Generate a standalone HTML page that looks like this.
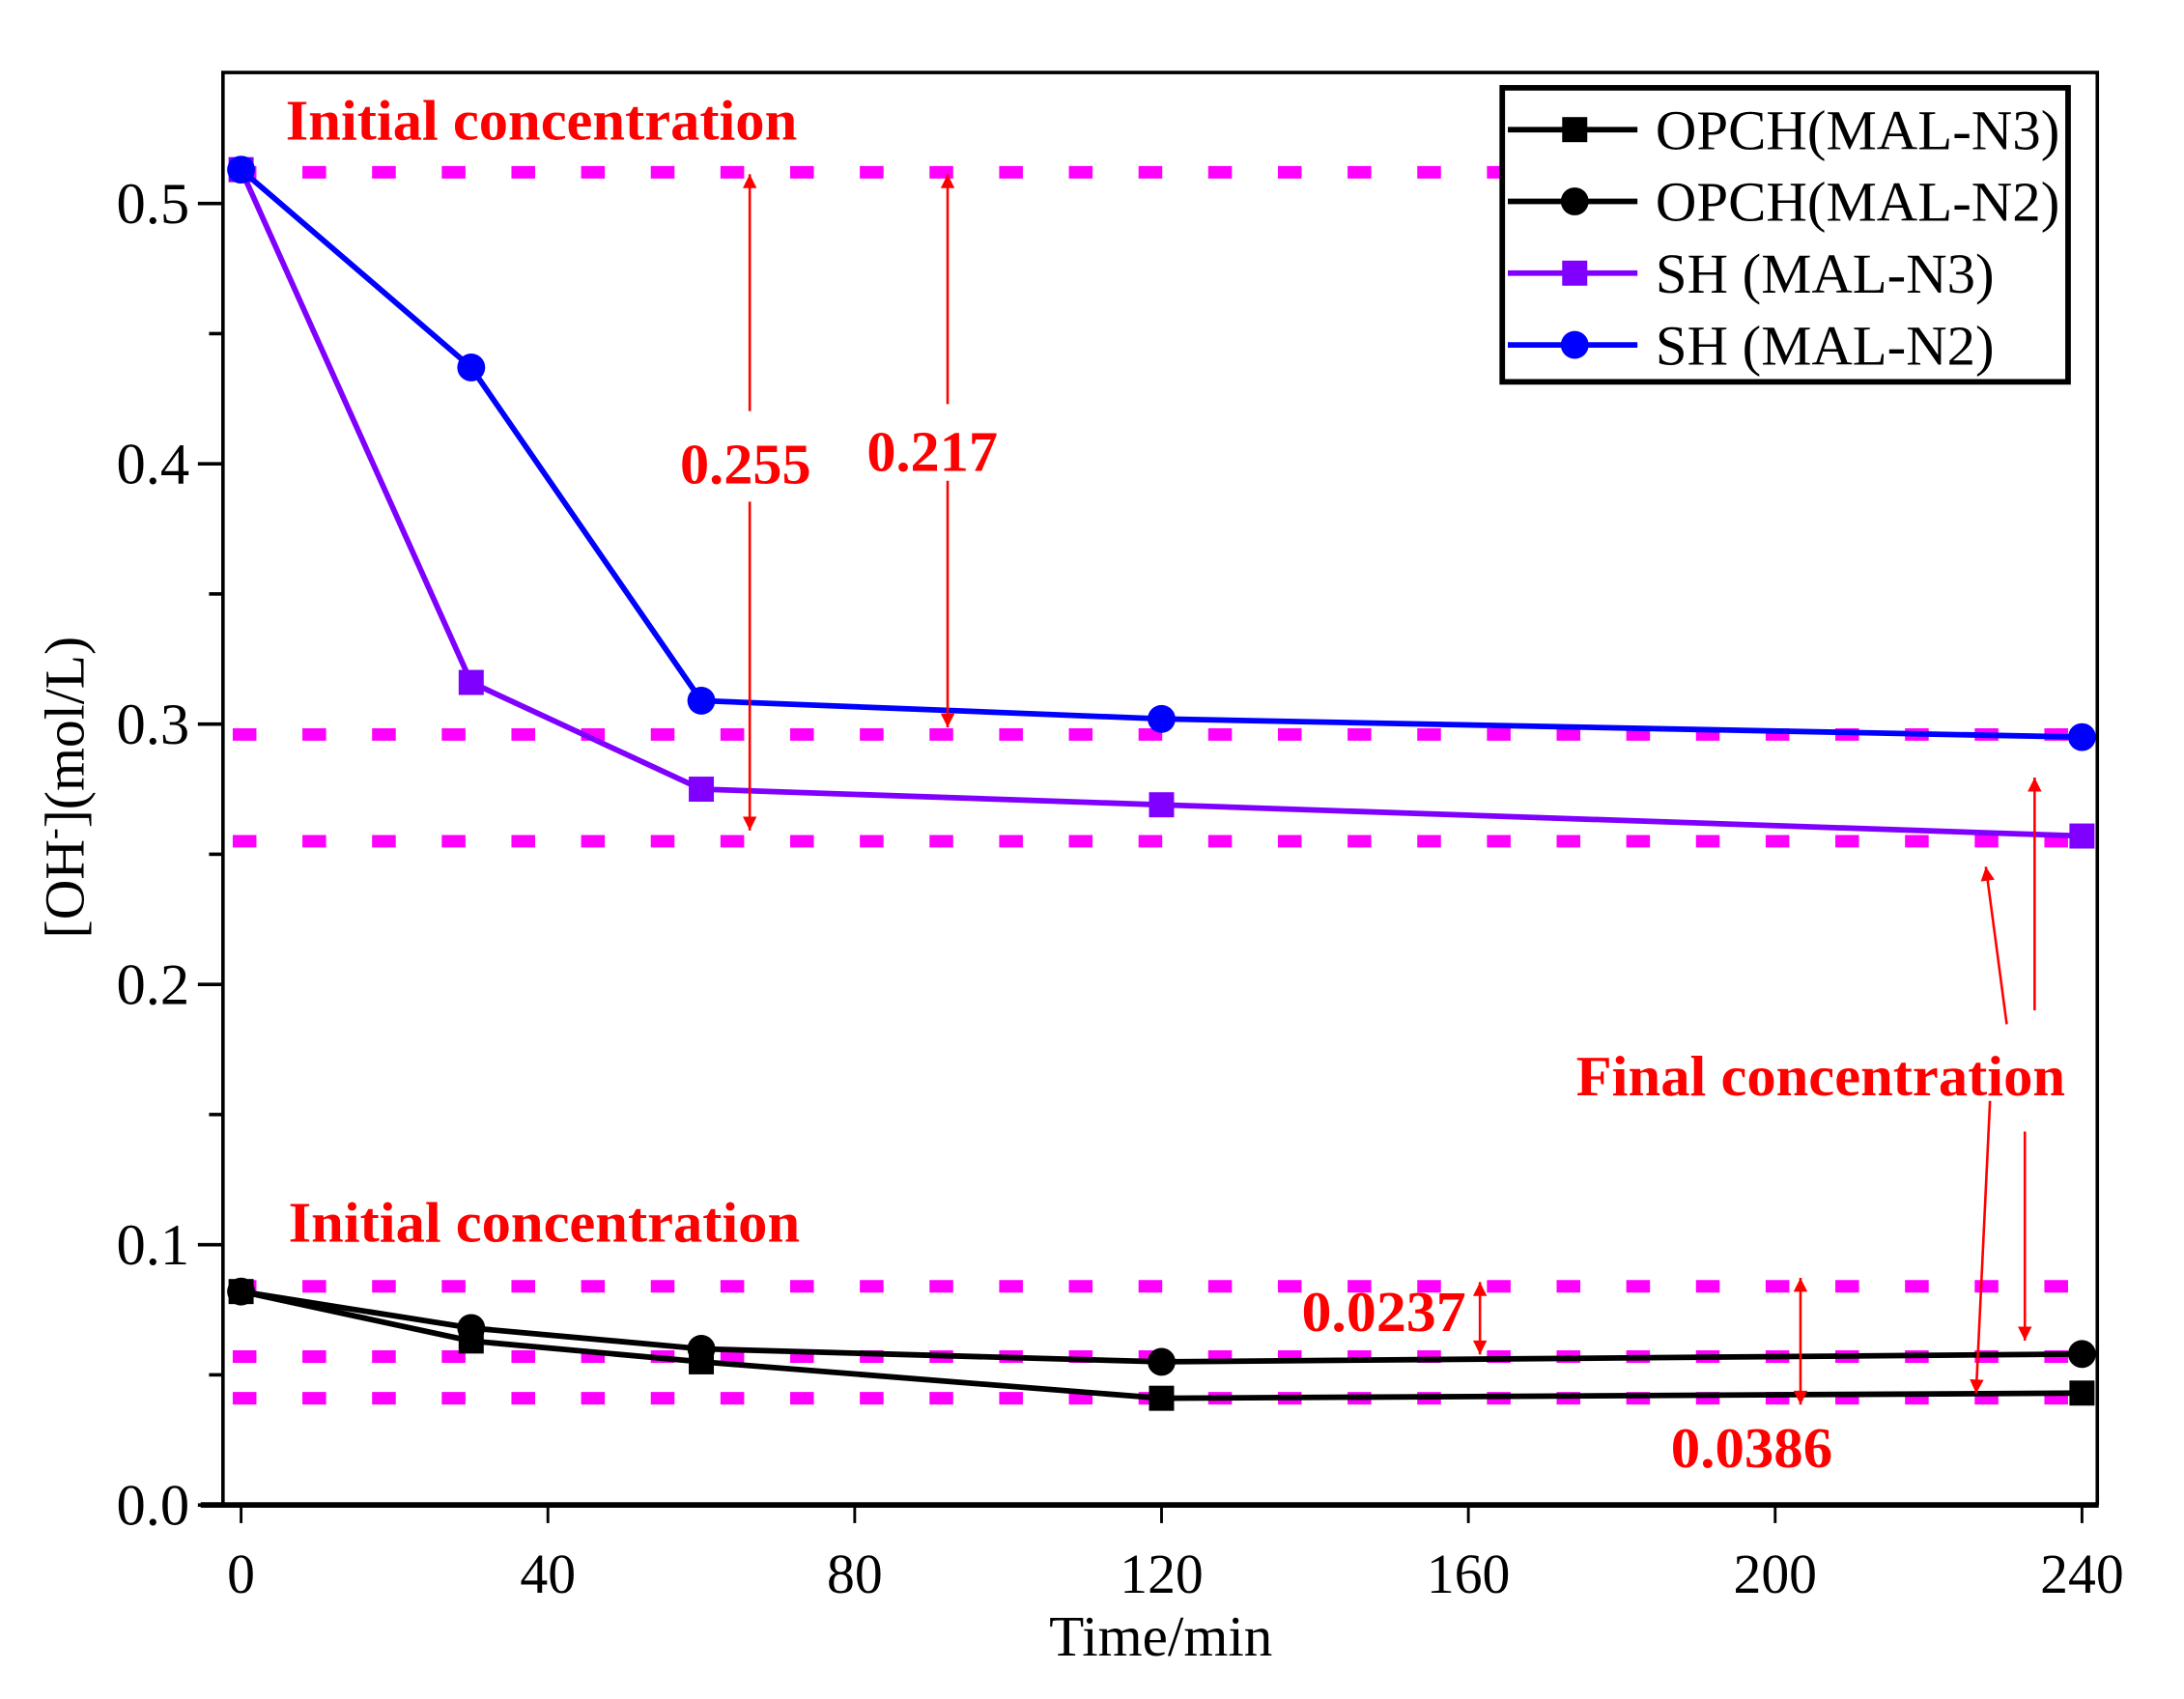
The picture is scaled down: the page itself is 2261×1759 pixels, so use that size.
<!DOCTYPE html>
<html><head><meta charset="utf-8"><style>
html,body{margin:0;padding:0;background:#fff;}
svg{display:block;}
text{font-family:"Liberation Serif",serif;}
</style></head><body>
<svg id="chart" width="2261" height="1759" viewBox="0 0 1567.2 1219.2" xmlns="http://www.w3.org/2000/svg">
<defs>
<marker id="ah" viewBox="0 0 10 10" refX="10" refY="5" markerWidth="16" markerHeight="10" markerUnits="userSpaceOnUse" orient="auto"><path d="M0,0 L10,5 L0,10 z" fill="#f00"/></marker>
</defs>
<g id="refs"></g>
<g id="series"></g>
<g id="axes"></g>
<g id="annot"></g>
<g id="legend"></g>
</svg>
<script>
const times = [0, 30, 60, 120, 240];
const seriesNames = ["OPCH(MAL-N3)", "OPCH(MAL-N2)", "SH (MAL-N3)", "SH (MAL-N2)"];
const opchN3 = [0.082, 0.063, 0.055, 0.041, 0.043];
const opchN2 = [0.082, 0.068, 0.060, 0.055, 0.058];
const shN3 = [0.513, 0.316, 0.275, 0.269, 0.257];
const shN2 = [0.513, 0.437, 0.309, 0.302, 0.295];
const refLevels = [0.512, 0.296, 0.255, 0.084, 0.057, 0.041];
const xTicks = [0, 40, 80, 120, 160, 200, 240];
const yTicks = [0.0, 0.1, 0.2, 0.3, 0.4, 0.5];
const yTickLabels = ["0.0", "0.1", "0.2", "0.3", "0.4", "0.5"];

const NS = "http://www.w3.org/2000/svg";
const L = 160, R = 1505, T = 52, B = 1080;
function sx(v){ return 173 + v * (1494 - 173) / 240; }
function sy(v){ return 1080 - v * (1080 - 146) / 0.5; }
function mk(tag, attrs, parent){
  const e = document.createElementNS(NS, tag);
  for (const k in attrs) e.setAttribute(k, attrs[k]);
  parent.appendChild(e);
  return e;
}
const refs = document.getElementById('refs');
const series = document.getElementById('series');
const axes = document.getElementById('axes');
const annot = document.getElementById('annot');
const legend = document.getElementById('legend');

refLevels.forEach((v, i) => {
  const ln = mk('line', {x1: 160, x2: 1503, y1: sy(v), y2: sy(v), stroke: '#ff00ff', 'stroke-width': 9, 'stroke-dasharray': '17 33', 'stroke-dashoffset': -7}, refs);
  
  
});

function drawSeries(vals, color, shape, name){
  const g = mk('g', {}, series);
  
  
  const pts = vals.map((v, i) => sx(times[i]) + ',' + sy(v)).join(' ');
  const pl = mk('polyline', {points: pts, fill: 'none', stroke: color, 'stroke-width': 4}, g);
  
  
  vals.forEach((v, i) => {
    let m;
    if (shape === 'sq') m = mk('rect', {x: sx(times[i]) - 9, y: sy(v) - 9, width: 18, height: 18, fill: color}, g);
    else m = mk('circle', {cx: sx(times[i]), cy: sy(v), r: 10, fill: color}, g);
    
    
  });
}
drawSeries(opchN2, '#000', 'ci', 'opch-mal-n2');
drawSeries(opchN3, '#000', 'sq', 'opch-mal-n3');
drawSeries(shN3, '#8000ff', 'sq', 'sh-mal-n3');
drawSeries(shN2, '#0000ff', 'ci', 'sh-mal-n2');

const fr = mk('path', {d: `M${L},${B} L${L},${T} L${R},${T} L${R},${B}`, fill: 'none', stroke: '#000', 'stroke-width': 2.5}, axes);


const xa = mk('line', {x1: 144, x2: R + 1, y1: B, y2: B, stroke: '#000', 'stroke-width': 4}, axes);


xTicks.forEach(t => {
  const tk = mk('line', {x1: sx(t), x2: sx(t), y1: B, y2: B + 13, stroke: '#000', 'stroke-width': 2}, axes);
  
  
  const tx = mk('text', {x: sx(t), y: B + 63, 'text-anchor': 'middle', 'font-size': 40}, axes);
  tx.textContent = String(t);
  
  
});
yTicks.forEach((t, i) => {
  const tk = mk('line', {x1: L - 18, x2: L, y1: sy(t), y2: sy(t), stroke: '#000', 'stroke-width': 2.5}, axes);
  
  
  if (t + 0.05 < 0.55) {
    const mn = mk('line', {x1: L - 10, x2: L, y1: sy(t + 0.05), y2: sy(t + 0.05), stroke: '#000', 'stroke-width': 2.5}, axes);
    
    
  }
  const tx = mk('text', {x: 136, y: sy(t) + 14, 'text-anchor': 'end', 'font-size': 42}, axes);
  tx.textContent = yTickLabels[i];
  
  
});
const xt = mk('text', {x: 833, y: 1188, 'text-anchor': 'middle', 'font-size': 41}, axes);
xt.textContent = 'Time/min';


const yt = mk('text', {x: 0, y: 0, 'text-anchor': 'middle', 'font-size': 40, transform: 'translate(60,565) rotate(-90)'}, axes);
yt.innerHTML = '[OH<tspan dy="-14" font-size="24">-</tspan><tspan dy="14">](mol/L)</tspan>';



function label(txt, x, y, name, w){
  const t = mk('text', {x: x, y: y, fill: '#f00', 'font-weight': 'bold', 'font-size': 41, textLength: w, lengthAdjust: 'spacingAndGlyphs'}, annot);
  t.textContent = txt;
  
  
}
label('Initial concentration', 205, 100, 'initial-concentration-label-top', 367);
label('0.255', 488, 347, 'diff-label-0255', 94);
label('0.217', 622, 338, 'diff-label-0217', 94);
label('Final concentration', 1131, 786, 'final-concentration-label', 351);
label('Initial concentration', 207, 891, 'initial-concentration-label-bottom', 367);
label('0.0237', 934, 955, 'diff-label-00237', 118);
label('0.0386', 1199, 1053, 'diff-label-00386', 116);
function arrow(x1, y1, x2, y2, name){
  const a = mk('line', {x1: x1, y1: y1, x2: x2, y2: y2, stroke: '#f00', 'stroke-width': 1.8, 'marker-end': 'url(#ah)'}, annot);
  
  
}
arrow(538, 295, 538, 125, 'arrow-0255-up'); arrow(538, 360, 538, 596, 'arrow-0255-down');
arrow(680, 290, 680, 125, 'arrow-0217-up'); arrow(680, 345, 680, 522, 'arrow-0217-down');
arrow(1062, 945, 1062, 920, 'arrow-00237-up'); arrow(1062, 945, 1062, 972, 'arrow-00237-down');
arrow(1292, 960, 1292, 917, 'arrow-00386-up'); arrow(1292, 960, 1292, 1008, 'arrow-00386-down');
arrow(1440, 735, 1425, 622, 'final-arrow-1'); arrow(1460, 725, 1460, 558, 'final-arrow-2');
arrow(1428, 790, 1418, 1000, 'final-arrow-3'); arrow(1453, 812, 1453, 962, 'final-arrow-4');

const lb = mk('rect', {x: 1078, y: 63, width: 406, height: 211, fill: '#fff', stroke: '#000', 'stroke-width': 4}, legend);


const lcolors = ['#000', '#000', '#8000ff', '#0000ff'];
const lshapes = ['sq', 'ci', 'sq', 'ci'];
seriesNames.forEach((n, i) => {
  const y = 93 + i * 51.5;
  const g = mk('g', {}, legend);
  
  
  mk('line', {x1: 1082, x2: 1175, y1: y, y2: y, stroke: lcolors[i], 'stroke-width': 4}, g);
  if (lshapes[i] === 'sq') mk('rect', {x: 1121, y: y - 9, width: 18, height: 18, fill: lcolors[i]}, g);
  else mk('circle', {cx: 1130, cy: y, r: 10, fill: lcolors[i]}, g);
  const t = mk('text', {x: 1188, y: y + 14, 'font-size': 40, textLength: (i < 2 ? 290 : 243), lengthAdjust: 'spacingAndGlyphs'}, g);
  t.textContent = n;
});
</script>
</body></html>
